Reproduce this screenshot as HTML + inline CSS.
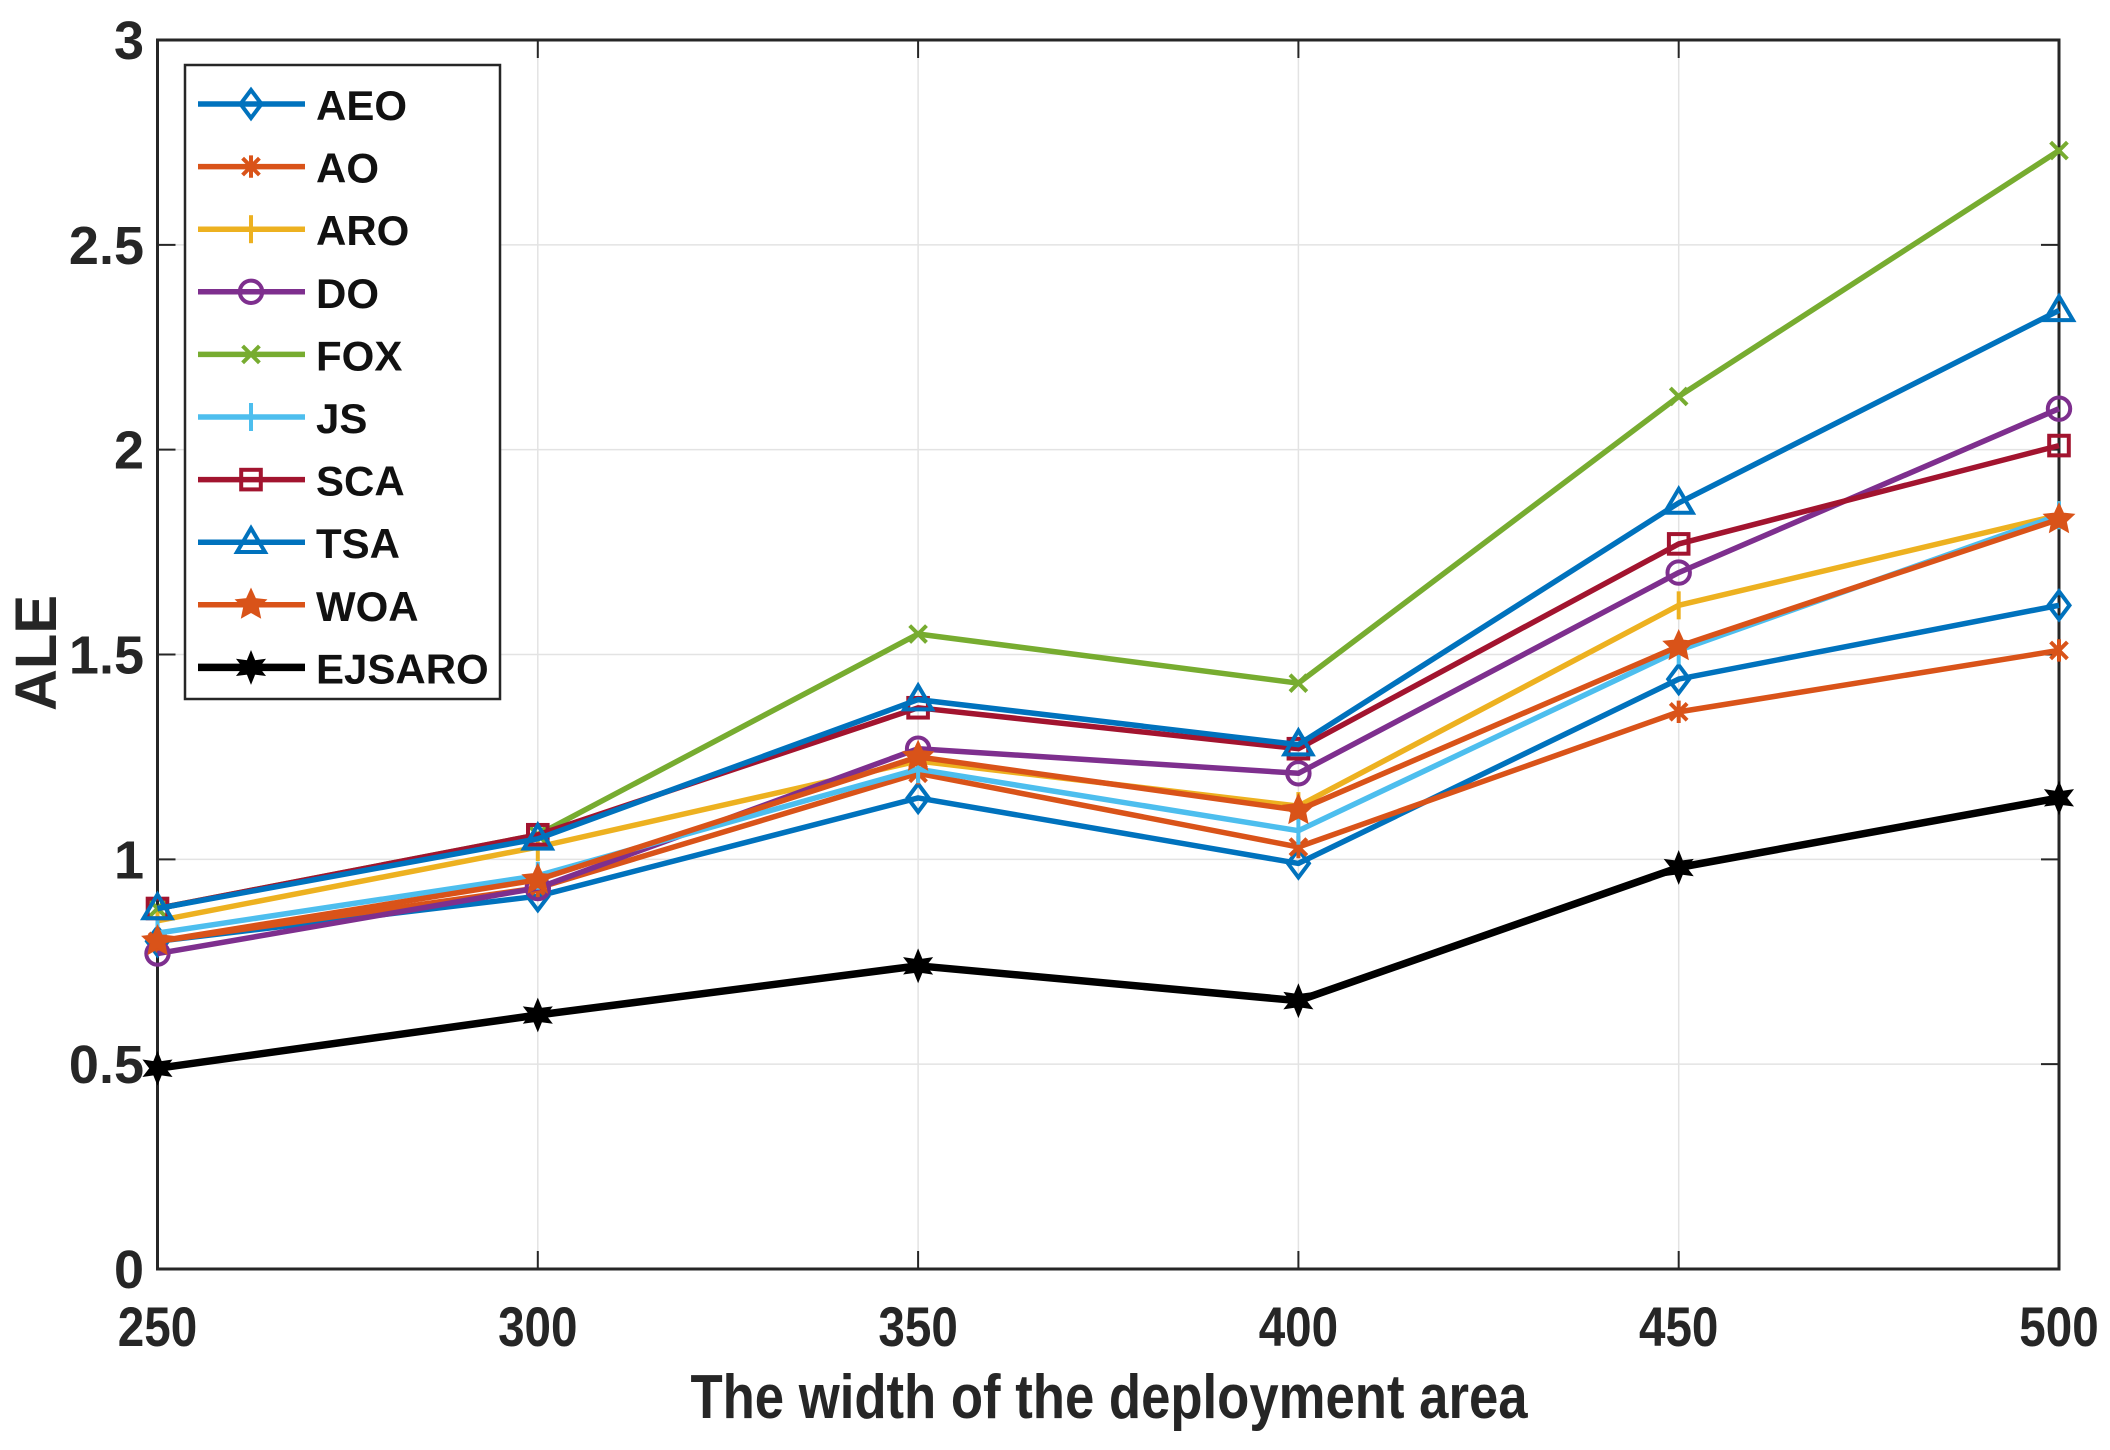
<!DOCTYPE html>
<html><head><meta charset="utf-8"><style>
html,body{margin:0;padding:0;background:#fff;}
svg{display:block;font-family:"Liberation Sans",Arial,sans-serif;font-weight:bold;}
</style></head><body>
<svg id="chart" width="2110" height="1450" viewBox="0 0 2110 1450" xmlns="http://www.w3.org/2000/svg"></svg>
<script>
const categories = [250, 300, 350, 400, 450, 500];
const yTicks = [0, 0.5, 1, 1.5, 2, 2.5, 3];
const yTickLabels = ["0", "0.5", "1", "1.5", "2", "2.5", "3"];
const seriesNames = ["AEO","AO","ARO","DO","FOX","JS","SCA","TSA","WOA","EJSARO"];
const aeo = [0.80, 0.91, 1.15, 0.99, 1.44, 1.62];
const ao = [0.80, 0.93, 1.21, 1.03, 1.36, 1.51];
const aro = [0.85, 1.03, 1.24, 1.13, 1.62, 1.84];
const dO = [0.77, 0.93, 1.27, 1.21, 1.70, 2.10];
const fox = [0.88, 1.06, 1.55, 1.43, 2.13, 2.73];
const js = [0.82, 0.96, 1.22, 1.07, 1.51, 1.84];
const sca = [0.88, 1.06, 1.37, 1.27, 1.77, 2.01];
const tsa = [0.88, 1.05, 1.39, 1.28, 1.87, 2.34];
const woa = [0.80, 0.95, 1.25, 1.12, 1.52, 1.83];
const ejsaro = [0.49, 0.62, 0.74, 0.655, 0.98, 1.15];

const svgNS = "http://www.w3.org/2000/svg";
const svg = document.getElementById('chart');
const L = 157.5, R = 2059, T = 40, B = 1269;
const xMin = 250, xMax = 500, yMin = 0, yMax = 3;
const xs = v => L + (v - xMin) / (xMax - xMin) * (R - L);
const ys = v => B - (v - yMin) / (yMax - yMin) * (B - T);
function mk(tag, attrs, parent) {
  const e = document.createElementNS(svgNS, tag);
  for (const k in attrs) e.setAttribute(k, attrs[k]);
  (parent || svg).appendChild(e);
  return e;
}
const styles = [
  {c:"#0072BD", m:"diamond", w:5.5},
  {c:"#D95319", m:"asterisk", w:5.5},
  {c:"#EDB120", m:"plus", w:5.5},
  {c:"#7E2F8E", m:"circle", w:5.5},
  {c:"#77AC30", m:"x", w:5.5},
  {c:"#4DBEEE", m:"plus", w:5.5},
  {c:"#A2142F", m:"square", w:5.5},
  {c:"#0072BD", m:"triangle", w:5.5},
  {c:"#D95319", m:"star", w:5.5},
  {c:"#000000", m:"hexstar", w:7.5}
];
const allSeries = [aeo, ao, aro, dO, fox, js, sca, tsa, woa, ejsaro];

const grid = mk('g', {});


categories.forEach(c => mk('line', {x1:xs(c), x2:xs(c), y1:T, y2:B, stroke:"#e3e3e3", "stroke-width":1.5}, grid));
yTicks.forEach(v => mk('line', {x1:L, x2:R, y1:ys(v), y2:ys(v), stroke:"#e3e3e3", "stroke-width":1.5}, grid));

const box = mk('rect', {x:L, y:T, width:R-L, height:B-T, fill:"none", stroke:"#262626", "stroke-width":3});



const xt = mk('g', {});


categories.forEach(c => {
  mk('line', {x1:xs(c), x2:xs(c), y1:B, y2:B-18, stroke:"#262626", "stroke-width":2}, xt);
  mk('line', {x1:xs(c), x2:xs(c), y1:T, y2:T+18, stroke:"#262626", "stroke-width":2}, xt);
  const t = mk('text', {x:xs(c), y:1346, "text-anchor":"middle", "font-size":56, fill:"#262626", transform:`translate(${xs(c)} 0) scale(0.85 1) translate(${-xs(c)} 0)`}, xt);
  t.textContent = c;
  
  
});
const yt = mk('g', {});


yTicks.forEach((v, i) => {
  mk('line', {x1:L, x2:L+18, y1:ys(v), y2:ys(v), stroke:"#262626", "stroke-width":2}, yt);
  mk('line', {x1:R, x2:R-18, y1:ys(v), y2:ys(v), stroke:"#262626", "stroke-width":2}, yt);
  const t = mk('text', {x:144, y:ys(v)+19, "text-anchor":"end", "font-size":54, fill:"#262626"}, yt);
  t.textContent = yTickLabels[i];
  
  
});
const xl = mk('text', {x:1109, y:1418, "text-anchor":"middle", "font-size":62, fill:"#262626", transform:"translate(1109 0) scale(0.85 1) translate(-1109 0)"});
xl.textContent = "The width of the deployment area";


const yl = mk('text', {x:0, y:0, "text-anchor":"middle", "font-size":58, fill:"#262626", transform:"translate(56 653) rotate(-90)"});
yl.textContent = "ALE";



function marker(g, m, x, y, c, s) {
  const sw = 4;
  if (m === "diamond") mk('polygon', {points:`${x},${y-s} ${x+s*0.75},${y} ${x},${y+s} ${x-s*0.75},${y}`, fill:"none", stroke:c, "stroke-width":sw}, g);
  else if (m === "circle") mk('circle', {cx:x, cy:y, r:s*0.8, fill:"none", stroke:c, "stroke-width":sw}, g);
  else if (m === "square") mk('rect', {x:x-s*0.7, y:y-s*0.7, width:s*1.4, height:s*1.4, fill:"none", stroke:c, "stroke-width":sw}, g);
  else if (m === "triangle") mk('polygon', {points:`${x},${y-s} ${x+s},${y+s*0.7} ${x-s},${y+s*0.7}`, fill:"none", stroke:c, "stroke-width":sw}, g);
  else if (m === "plus") { mk('line', {x1:x, x2:x, y1:y-s, y2:y+s, stroke:c, "stroke-width":sw}, g); }
  else if (m === "x") { const d=s*0.6; mk('path', {d:`M${x-d} ${y-d}L${x+d} ${y+d}M${x-d} ${y+d}L${x+d} ${y-d}`, stroke:c, "stroke-width":sw}, g); }
  else if (m === "asterisk") { const d=s*0.6; mk('path', {d:`M${x} ${y-s*0.8}L${x} ${y+s*0.8}M${x-d} ${y-d}L${x+d} ${y+d}M${x-d} ${y+d}L${x+d} ${y-d}`, stroke:c, "stroke-width":sw}, g); }
  else if (m === "star" || m === "hexstar") {
    const n = m === "star" ? 5 : 6, pts = [];
    for (let k = 0; k < 2*n; k++) {
      const r = k % 2 === 0 ? s*1.15 : s*0.55;
      const a = -Math.PI/2 + k*Math.PI/n;
      pts.push((x + r*Math.cos(a)).toFixed(1) + "," + (y + r*Math.sin(a)).toFixed(1));
    }
    mk('polygon', {points:pts.join(" "), fill:c, stroke:c, "stroke-width":1}, g);
  }
}

allSeries.forEach((data, si) => {
  const st = styles[si];
  const g = mk('g', {});
  
  
  const pts = data.map((v, i) => xs(categories[i]).toFixed(1) + "," + ys(v).toFixed(1)).join(" ");
  mk('polyline', {points:pts, fill:"none", stroke:st.c, "stroke-width":st.w, "stroke-linejoin":"round"}, g);
  data.forEach((v, i) => marker(g, st.m, xs(categories[i]), ys(v), st.c, 14));
});

const lg = mk('g', {});


mk('rect', {x:185, y:65, width:315, height:634, fill:"#fff", stroke:"#262626", "stroke-width":2.5}, lg);
seriesNames.forEach((n, i) => {
  const st = styles[i];
  const y = 104 + i*62.6;
  const e = mk('g', {}, lg);
  
  
  mk('line', {x1:198, x2:305, y1:y, y2:y, stroke:st.c, "stroke-width":st.w}, e);
  marker(e, st.m, 251, y, st.c, 14);
  const t = mk('text', {x:316, y:y+16, "font-size":42, fill:"#111"}, e);
  t.textContent = n;
});
</script>
</body></html>
